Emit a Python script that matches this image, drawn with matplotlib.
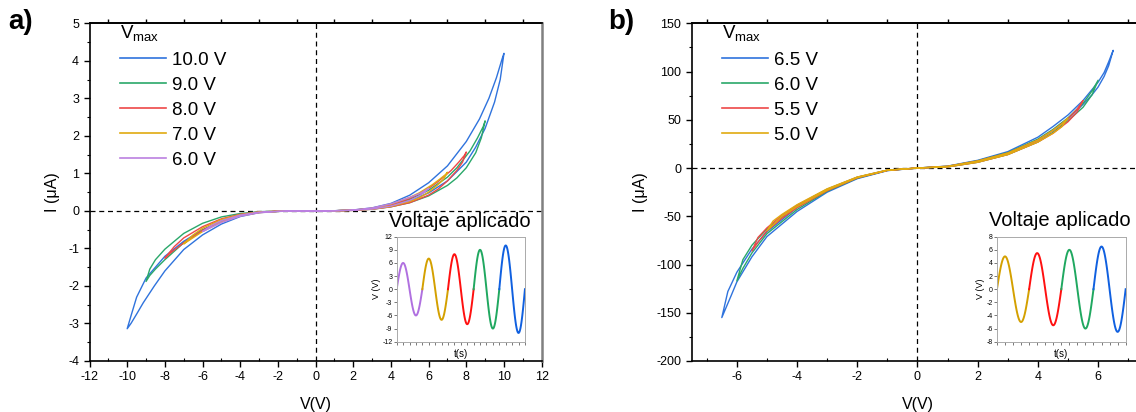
import numpy as np
import matplotlib.pyplot as plt
from matplotlib.ticker import MultipleLocator

plt.rcParams['font.family'] = ['Liberation Sans', 'DejaVu Sans']
plt.rcParams['axes.unicode_minus'] = False

# ---- panel a) loops (V in volts, I in uA) ----
labels_a = ['10.0 V', '9.0 V', '8.0 V', '7.0 V', '6.0 V']
colors_a = ['#2f73dd', '#2aa86a', '#ee4848', '#e0aa10', '#bb80e0']

# each loop: 0 -> +Vmax -> 0 -> -Vmax -> 0
v_a_blue = [0, 1, 2, 3, 4, 5, 6, 7, 8, 8.5, 9, 9.5, 9.8, 10,
            9.9, 9.6, 9.2, 8.7, 8, 7, 6, 5, 4, 3, 2, 1, 0,
            -1, -2, -3, -4, -5, -6, -7, -8, -8.5, -9, -9.5, -9.8, -10,
            -9.8, -9.5, -9.15, -8.56, -8, -7, -6, -5, -4, -3, -2, -1, 0]
i_a_blue = [0, 0.005, 0.02, 0.06, 0.14, 0.27, 0.48, 0.8, 1.3, 1.7, 2.2, 2.9, 3.5, 4.2,
            4.05, 3.55, 3.0, 2.45, 1.85, 1.2, 0.75, 0.42, 0.2, 0.08, 0.025, 0.005, 0,
            -0.003, -0.01, -0.035, -0.12, -0.28, -0.5, -0.81, -1.21, -1.5, -1.79, -2.3, -2.8, -3.14,
            -3.0, -2.75, -2.45, -2.0, -1.6, -1.03, -0.64, -0.35, -0.15, -0.045, -0.012, -0.003, 0]

v_a_green = [0, 1, 2, 3, 4, 5, 6, 7, 7.5, 8, 8.5, 8.8, 9,
             8.9, 8.6, 8.2, 7.5, 7, 6, 5, 4, 3, 2, 1, 0,
             -1, -2, -3, -4, -5, -6, -7, -8, -8.5, -8.8, -9,
             -8.8, -8.5, -8, -7, -6, -5, -4, -3, -2, -1, 0]
i_a_green = [0, 0.004, 0.015, 0.045, 0.11, 0.22, 0.4, 0.68, 0.88, 1.15, 1.55, 1.95, 2.4,
             2.25, 1.95, 1.6, 1.15, 0.9, 0.55, 0.31, 0.16, 0.065, 0.02, 0.004, 0,
             -0.002, -0.008, -0.02, -0.07, -0.16, -0.33, -0.6, -1.02, -1.3, -1.55, -1.88,
             -1.72, -1.55, -1.3, -0.85, -0.52, -0.28, -0.12, -0.04, -0.01, -0.002, 0]

v_a_red = [0, 1, 2, 3, 4, 5, 6, 6.5, 7, 7.5, 7.8, 8,
           7.9, 7.6, 7.2, 6.5, 6, 5, 4, 3, 2, 1, 0,
           -1, -2, -3, -4, -5, -6, -7, -7.5, -8,
           -7.7, -7, -6, -5, -4, -3, -2, -1, 0]
i_a_red = [0, 0.004, 0.015, 0.045, 0.11, 0.22, 0.42, 0.58, 0.8, 1.08, 1.3, 1.57,
           1.48, 1.3, 1.08, 0.78, 0.6, 0.33, 0.16, 0.065, 0.02, 0.004, 0,
           -0.002, -0.009, -0.028, -0.09, -0.21, -0.42, -0.72, -0.95, -1.26,
           -1.12, -0.85, -0.52, -0.27, -0.12, -0.04, -0.01, -0.002, 0]

v_a_orange = [0, 1, 2, 3, 4, 5, 5.5, 6, 6.5, 6.8, 7,
              6.9, 6.6, 6.2, 5.5, 5, 4, 3, 2, 1, 0,
              -1, -2, -3, -4, -5, -6, -6.5, -7,
              -6.7, -6, -5, -4, -3, -2, -1, 0]
i_a_orange = [0, 0.004, 0.015, 0.05, 0.12, 0.25, 0.35, 0.5, 0.7, 0.85, 1.03,
              0.97, 0.85, 0.7, 0.48, 0.36, 0.18, 0.07, 0.022, 0.004, 0,
              -0.002, -0.009, -0.03, -0.1, -0.23, -0.46, -0.64, -0.88,
              -0.78, -0.55, -0.29, -0.13, -0.045, -0.012, -0.002, 0]

v_a_purple = [0, 1, 2, 3, 4, 5, 5.5, 5.8, 6,
              5.9, 5.6, 5, 4, 3, 2, 1, 0,
              -1, -2, -3, -4, -5, -5.5, -6,
              -5.7, -5, -4, -3, -2, -1, 0]
i_a_purple = [0, 0.004, 0.015, 0.05, 0.13, 0.28, 0.4, 0.5, 0.6,
              0.57, 0.48, 0.36, 0.19, 0.08, 0.025, 0.005, 0,
              -0.002, -0.01, -0.033, -0.11, -0.26, -0.38, -0.55,
              -0.48, -0.31, -0.14, -0.05, -0.013, -0.002, 0]

# ---- panel b) loops ----
labels_b = ['6.5 V', '6.0 V', '5.5 V', '5.0 V']
colors_b = ['#2f73dd', '#2aa86a', '#ee4848', '#e0aa10']

v_b_blue = [0, 1, 2, 3, 4, 4.5, 5, 5.5, 5.8, 6, 6.2, 6.35, 6.5,
            6.35, 6.2, 6, 5.5, 5, 4.5, 4, 3, 2, 1, 0,
            -1, -2, -3, -4, -5, -5.5, -6, -6.3, -6.5,
            -6.2, -6, -5.5, -5, -4, -3, -2, -1, 0]
i_b_blue = [0, 1.3, 6.5, 15, 29, 39, 51, 66, 76, 84, 95, 106, 122,
            110, 99, 89, 70, 55, 43, 32, 17, 8, 2, 0,
            -2.3, -10, -23, -41, -66, -84, -108, -128, -155,
            -133, -118, -92, -71, -45, -25, -11, -2.7, 0]

v_b_green = [0, 1, 2, 3, 4, 4.5, 5, 5.5, 5.8, 6,
             5.8, 5.5, 5, 4.5, 4, 3, 2, 1, 0,
             -1, -2, -3, -4, -5, -5.5, -5.8, -6,
             -5.8, -5.5, -5, -4, -3, -2, -1, 0]
i_b_green = [0, 1.2, 6, 14, 27, 37, 49, 63, 76, 91,
             80, 67, 52, 40, 30, 16, 7.5, 1.8, 0,
             -2.2, -9.5, -22, -39, -63, -80, -95, -117,
             -104, -88, -68, -43, -24, -10.5, -2.5, 0]

v_b_red = [0, 1, 2, 3, 4, 4.5, 5, 5.3, 5.5,
           5.3, 5, 4.5, 4, 3, 2, 1, 0,
           -1, -2, -3, -4, -4.5, -5, -5.3, -5.5,
           -5.3, -5, -4.5, -4, -3, -2, -1, 0]
i_b_red = [0, 1.2, 6, 14, 27, 36, 48, 58, 70,
           61, 51, 39, 29, 15.5, 7.3, 1.8, 0,
           -2.2, -9.5, -22, -38.5, -49, -62, -72, -86,
           -77, -65, -52, -41, -23.5, -10.2, -2.5, 0]

v_b_orange = [0, 1, 2, 3, 4, 4.5, 4.8, 5,
              4.8, 4.5, 4, 3, 2, 1, 0,
              -1, -2, -3, -4, -4.5, -4.8, -5,
              -4.8, -4.5, -4, -3, -2, -1, 0]
i_b_orange = [0, 1.2, 6, 14, 27, 36, 43, 52,
              46, 39, 29, 15.5, 7.3, 1.8, 0,
              -2.1, -9.3, -21.5, -38, -48, -55, -65,
              -59, -50, -40, -23, -10, -2.4, 0]

# ---- insets: amplitude of each applied cycle ----
amp_a = [6, 7, 8, 9, 10]
inset_colors_a = ['#b070e0', '#d4a000', '#ff1010', '#20a860', '#1060e0']
amp_b = [5, 5.5, 6, 6.5]
inset_colors_b = ['#d4a000', '#ff1010', '#20a860', '#1060e0']

loops_a = [(v_a_blue, i_a_blue), (v_a_green, i_a_green), (v_a_red, i_a_red),
           (v_a_orange, i_a_orange), (v_a_purple, i_a_purple)]
loops_b = [(v_b_blue, i_b_blue), (v_b_green, i_b_green), (v_b_red, i_b_red),
           (v_b_orange, i_b_orange)]

fig = plt.figure(figsize=(11.36, 4.12), dpi=100)
ax_a = fig.add_axes([0.0788, 0.1238, 0.398, 0.8196])
ax_b = fig.add_axes([0.6089, 0.1238, 0.3975, 0.8196])


def style_main(ax, odd_top):
    ax.axhline(0, color='k', ls=(0, (4, 3)), lw=0.9, zorder=1)
    ax.axvline(0, color='k', ls=(0, (4, 3)), lw=0.9, zorder=1)
    ax.set_xlabel('V(V)', fontsize=11.5, labelpad=10)
    ax.set_ylabel('I (\u03bcA)', fontsize=11.5, labelpad=6)
    ax.tick_params(which='major', direction='out', length=4, width=1, labelsize=9)
    ax.tick_params(which='minor', direction='out', length=2.5, width=0.8)
    ax.tick_params(axis='x', which='minor', direction='in')
    for s in ['left', 'top', 'bottom']:
        ax.spines[s].set_linewidth(1.2)
    ax.spines['right'].set_color('#808080')
    ax.spines['right'].set_linewidth(1.8)
    top = ax.secondary_xaxis('top')
    top.set_xticks(odd_top, labels=[])
    top.tick_params(direction='out', length=3, width=1)
    top.spines['top'].set_linewidth(1.2)


def make_inset(rect, amps, cols, ylim, ystep, title, title_xy):
    ins = fig.add_axes(rect)
    for k, (A, c) in enumerate(zip(amps, cols)):
        t = np.linspace(k, k + 1, 80)
        ins.plot(t, A * np.sin(2 * np.pi * (t - k)), color=c, lw=1.4)
    ins.set_xlim(0, len(amps))
    ins.set_ylim(*ylim)
    ins.set_yticks(np.arange(ylim[0], ylim[1] + 0.1, ystep))
    ins.set_xticks(np.arange(0, len(amps) + 0.01, 0.25), labels=[])
    ins.tick_params(labelsize=5, length=2, width=0.5, pad=1, colors='#444444')
    ins.tick_params(axis='y', labelcolor='k')
    for s in ins.spines.values():
        s.set_color('#aaaaaa')
        s.set_linewidth(0.7)
    ins.set_xlabel('t(s)', fontsize=7, labelpad=2)
    ins.set_ylabel('V (V)', fontsize=6.5, labelpad=1)
    fig.text(title_xy[0], title_xy[1], title, fontsize=14.5, ha='center', va='center')
    return ins


for (v, i), c, lab in zip(loops_a, colors_a, labels_a):
    ax_a.plot(v, i, color=c, lw=1.0, label=lab)
ax_a.set_xlim(-12, 12)
ax_a.set_ylim(-4, 5)
ax_a.xaxis.set_major_locator(MultipleLocator(2))
ax_a.xaxis.set_minor_locator(MultipleLocator(1))
ax_a.yaxis.set_major_locator(MultipleLocator(1))
ax_a.yaxis.set_minor_locator(MultipleLocator(0.5))
style_main(ax_a, np.arange(-11, 12, 2))

for (v, i), c, lab in zip(loops_b, colors_b, labels_b):
    ax_b.plot(v, i, color=c, lw=1.0, label=lab)
ax_b.set_xlim(-7.5, 7.5)
ax_b.set_ylim(-200, 150)
ax_b.xaxis.set_major_locator(MultipleLocator(2))
ax_b.xaxis.set_minor_locator(MultipleLocator(1))
ax_b.yaxis.set_major_locator(MultipleLocator(50))
ax_b.yaxis.set_minor_locator(MultipleLocator(25))
style_main(ax_b, np.arange(-7, 8, 2))

for ax in (ax_a, ax_b):
    leg = ax.legend(loc='upper left', bbox_to_anchor=(0.068, 1.0), frameon=False,
                    title='V$_{\\mathregular{max}}$', fontsize=13.5, title_fontsize=13.5,
                    handlelength=2.45, handletextpad=0.3, labelspacing=0.42,
                    borderpad=0, borderaxespad=0)
    leg._legend_box.align = 'left'
    for line in leg.get_lines():
        line.set_linewidth(1.2)

make_inset([0.3492, 0.1706, 0.1129, 0.2549], amp_a, inset_colors_a, (-12, 12), 3,
           'Voltaje aplicado', (0.4044, 0.462))
make_inset([0.8776, 0.1706, 0.1133, 0.2549], amp_b, inset_colors_b, (-8, 8), 2,
           'Voltaje aplicado', (0.933, 0.464))

fig.text(0.007, 0.946, 'a)', fontsize=20, fontweight='bold', va='center')
fig.text(0.535, 0.946, 'b)', fontsize=20, fontweight='bold', va='center')

fig.savefig('out.png', dpi=100)
